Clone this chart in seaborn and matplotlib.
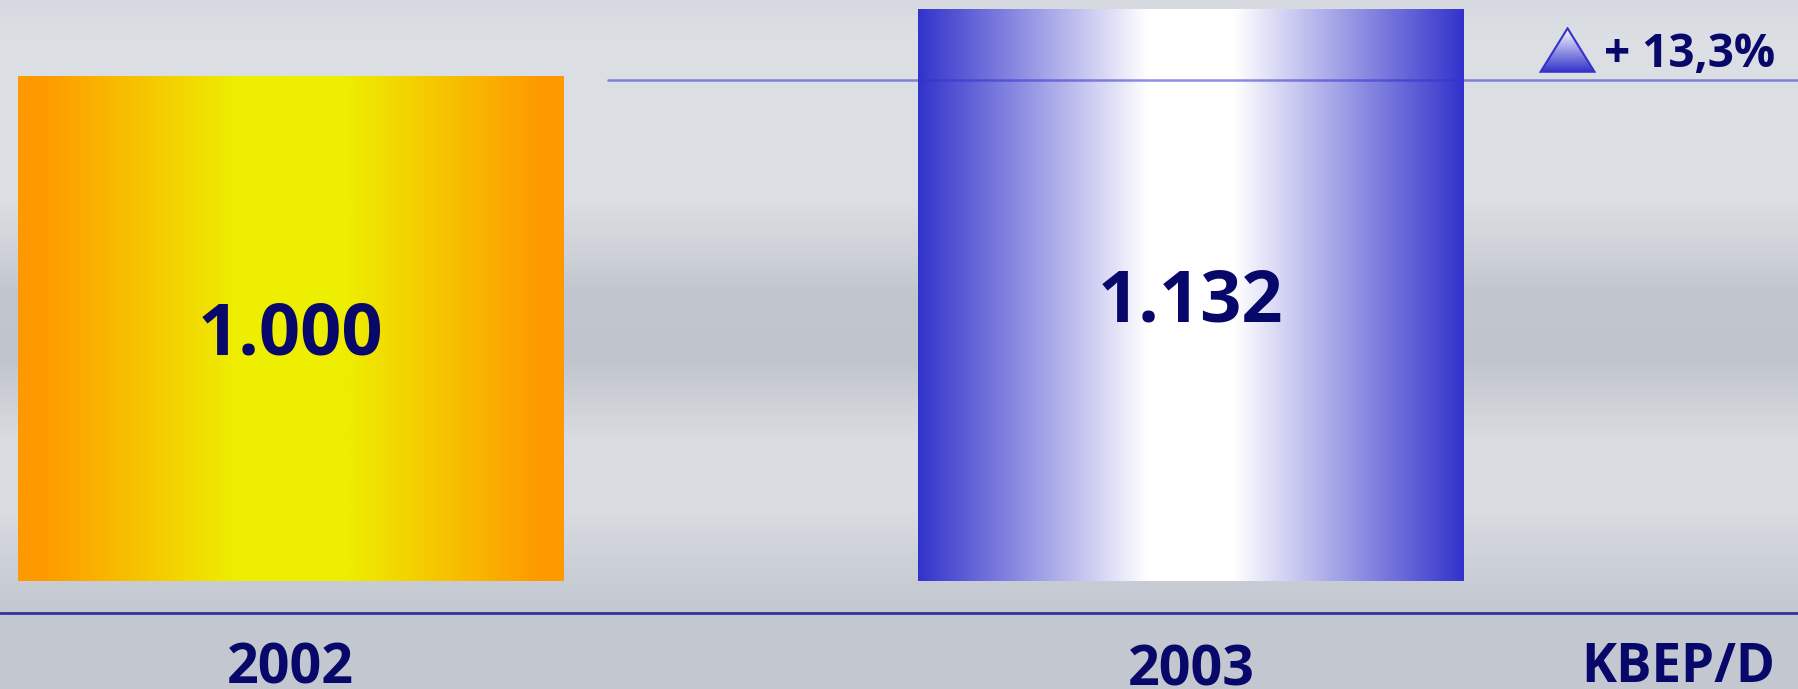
import numpy as np
import matplotlib
matplotlib.use("Agg")
import matplotlib.pyplot as plt
import matplotlib.transforms as mtransforms
from matplotlib.colors import LinearSegmentedColormap, to_rgb
from matplotlib.patches import Polygon
import seaborn as sns

years = ["2002", "2003"]
values = [1000, 1132]
value_labels = ["1.000", "1.132"]
change_label = "+ 13,3%"
unit_label = "KBEP/D"

NAVY = "#08086a"

sns.set_theme(style="white")
plt.rcParams["font.family"] = ["Open Sans", "DejaVu Sans"]

fig = plt.figure(figsize=(17.99, 6.89), dpi=100)
ax = fig.add_axes([0, 0, 1, 1])

# silver background, light / dark horizontal bands
bg_stops = [(0, "#d6d9df"), (40, "#dcdfe4"), (200, "#dbdee3"), (250, "#cfd3d9"),
            (290, "#c2c6ce"), (360, "#c0c4cd"), (405, "#cfd3d8"), (445, "#dadde2"),
            (510, "#d9dce1"), (565, "#cbcfd7"), (610, "#c3c7d0"), (689, "#c4c8d0")]
rows = np.arange(689)
pos = [s[0] for s in bg_stops]
cols = np.array([to_rgb(s[1]) for s in bg_stops])
bg = np.stack([np.interp(rows, pos, cols[:, k]) for k in range(3)], axis=-1)
bg = np.repeat(bg[:, None, :], 4, axis=1)
ax.imshow(bg, extent=[0, 1, 0, 1], transform=ax.transAxes, aspect="auto", zorder=0)

sns.barplot(x=years, y=values, width=0.605, ax=ax, zorder=2)

orange = LinearSegmentedColormap.from_list(
    "orange", [(0, "#ff9900"), (0.04, "#ff9900"), (0.40, "#eeee00"),
               (0.60, "#eeee00"), (0.96, "#ff9900"), (1, "#ff9900")])
blue = LinearSegmentedColormap.from_list(
    "blue", [(0, "#3333cc"), (0.42, "#ffffff"), (0.58, "#ffffff"), (1, "#3333cc")])

grad = np.linspace(0, 1, 256)[None, :]
for p, cmap in zip(ax.patches, [orange, blue]):
    x0, y0, w, h = p.get_x(), p.get_y(), p.get_width(), p.get_height()
    im = ax.imshow(grad, extent=[x0, x0 + w, y0, y0 + h], aspect="auto",
                   cmap=cmap, zorder=2)
    im.set_clip_path(p)
    p.set_facecolor("none")
    p.set_edgecolor("none")

for i, (v, lab) in enumerate(zip(values, value_labels)):
    ax.annotate(lab, (i, v / 2), xytext=(0, -19), textcoords="offset points",
                ha="center", va="baseline", fontsize=52, fontweight="bold",
                color=NAVY, zorder=4)

# reference line at the 2002 level (sits a few px under the bar top)
ref_tr = mtransforms.offset_copy(ax.get_yaxis_transform(), fig=fig, y=-3, units="points")
ax.plot([0.338, 1], [values[0]] * 2, transform=ref_tr, color="#3333cc", alpha=0.55,
        lw=1.8, zorder=3)
# base line
ax.plot([0, 1], [1 - 613 / 689] * 2, transform=ax.transAxes, color="#33339a", lw=2, zorder=3)

ax.set_xlim(-0.322, 1.675)
ax.set_ylim(-213.9, 1150.5)
ax.axis("off")

# year labels under the bars
ax.text(0, 1 - 683 / 689, years[0], transform=ax.get_xaxis_transform(), ha="center",
        va="baseline", fontsize=40, fontweight="bold", color=NAVY)
ax.text(1, 1 - 686 / 689, years[1], transform=ax.get_xaxis_transform(), ha="center",
        va="baseline", fontsize=40, fontweight="bold", color=NAVY)
fig.text(0.987, 1 - 682 / 689, unit_label, ha="right", va="baseline",
         fontsize=38, fontweight="bold", color=NAVY)

# change marker: gradient triangle + percentage
tax = fig.add_axes([0.8555, 0.894, 0.0317, 0.0668])
tri = Polygon([(0, 0), (1, 0), (0.5, 1)], closed=True, facecolor="none",
              edgecolor="#3333cc", lw=1.5, zorder=3)
tax.add_patch(tri)
tgrad = np.linspace(0, 1, 128)[:, None]
tim = tax.imshow(tgrad, extent=[0, 1, 0, 1], aspect="auto",
                 cmap=LinearSegmentedColormap.from_list("t", ["#3333cc", "#ffffff"]),
                 origin="lower", zorder=2)
tim.set_clip_path(tri)
tax.set_xlim(-0.03, 1.03)
tax.set_ylim(-0.03, 1.03)
tax.axis("off")

fig.text(0.8916, 1 - 67 / 689, change_label, ha="left", va="baseline",
         fontsize=33, fontweight="bold", color=NAVY)

fig.savefig("out.png", dpi=100)
